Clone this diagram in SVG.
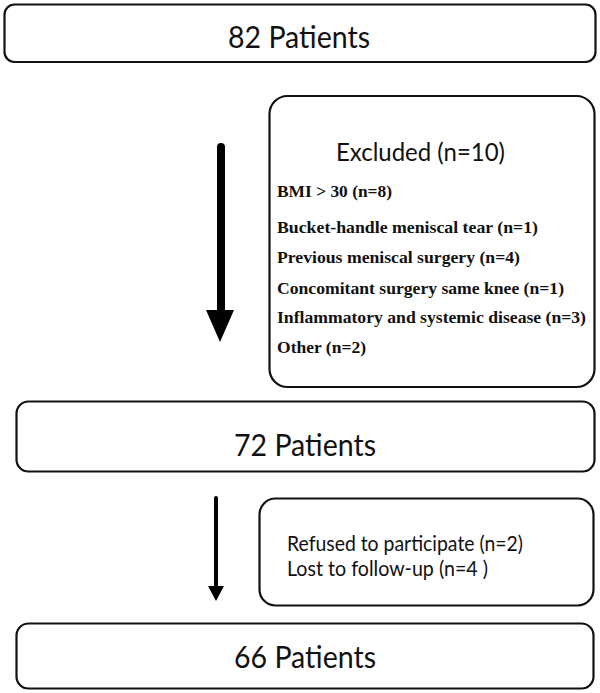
<svg xmlns="http://www.w3.org/2000/svg" width="600" height="693" viewBox="0 0 600 693">
<style>
.box{fill:#fff;stroke:#111;stroke-width:2.2}
.big{font-family:Lato,"Open Sans","Liberation Sans",sans-serif;font-size:30px;fill:#111}
.mid{font-family:Lato,"Open Sans","Liberation Sans",sans-serif;font-size:20.5px;fill:#111}
.lst{font-family:"Liberation Serif","Times New Roman",serif;font-weight:bold;font-size:17.5px;fill:#111}
.arr{fill:#000}
</style>
<rect width="600" height="693" fill="#fff"/>
<g id="n82">
<rect class="box" x="4.5" y="4.5" width="591" height="57.5" rx="10"/>
<text class="big" x="299" y="48" text-anchor="middle" textLength="142" lengthAdjust="spacingAndGlyphs">82 Patients</text>
</g>
<g id="excluded">
<rect class="box" x="269.5" y="96" width="325" height="291" rx="18"/>
<text class="big" x="420.5" y="161" text-anchor="middle" style="font-size:25px" textLength="169" lengthAdjust="spacingAndGlyphs">Excluded (n=10)</text>
<text class="lst" x="277" y="197" textLength="115" lengthAdjust="spacingAndGlyphs">BMI &gt; 30 (n=8)</text>
<text class="lst" x="277" y="233" textLength="261" lengthAdjust="spacingAndGlyphs">Bucket-handle meniscal tear (n=1)</text>
<text class="lst" x="277" y="263" textLength="243" lengthAdjust="spacingAndGlyphs">Previous meniscal surgery (n=4)</text>
<text class="lst" x="277" y="294" textLength="287" lengthAdjust="spacingAndGlyphs">Concomitant surgery same knee (n=1)</text>
<text class="lst" x="277" y="323" textLength="309" lengthAdjust="spacingAndGlyphs">Inflammatory and systemic disease (n=3)</text>
<text class="lst" x="277" y="353" textLength="89" lengthAdjust="spacingAndGlyphs">Other (n=2)</text>
</g>
<g id="n72">
<rect class="box" x="16.5" y="401.5" width="578" height="70" rx="12"/>
<text class="big" x="305" y="456" text-anchor="middle" textLength="142" lengthAdjust="spacingAndGlyphs">72 Patients</text>
</g>
<g id="dropout">
<rect class="box" x="259.5" y="498.5" width="334" height="107" rx="16"/>
<text class="mid" x="287" y="551" textLength="236" lengthAdjust="spacingAndGlyphs">Refused to participate (n=2)</text>
<text class="mid" x="287" y="576" textLength="201" lengthAdjust="spacingAndGlyphs">Lost to follow-up (n=4 )</text>
</g>
<g id="n66">
<rect class="box" x="16.5" y="623.5" width="577" height="65" rx="12"/>
<text class="big" x="305" y="668" text-anchor="middle" textLength="142" lengthAdjust="spacingAndGlyphs">66 Patients</text>
</g>
<g id="connectors">
<path class="arr" d="M217,147 a4,4 0 0 1 8,0 V310 H234 L220,342 L206,310 H217 Z"/>
<path class="arr" d="M214,498 a2,2 0 0 1 4,0 V586 H224 L216,601 L208,586 H214 Z"/>
</g>
</svg>
